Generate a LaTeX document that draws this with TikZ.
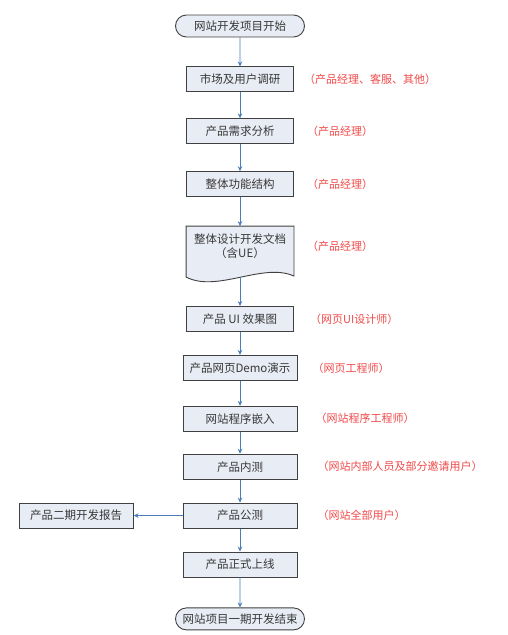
\documentclass[tikz,border=0pt]{standalone}
\usepackage{fontspec}
\setmainfont{Noto Sans CJK SC}
\usetikzlibrary{arrows.meta, positioning, shapes.misc, backgrounds}
\definecolor{boxfill}{HTML}{E8ECF4}
\definecolor{boxline}{HTML}{404040}
\definecolor{flowblue}{HTML}{4A7EBB}
\definecolor{rolered}{HTML}{F04848}

\begin{document}
\begin{tikzpicture}[
        x=1pt, y=1pt,
        node distance=25pt and 12pt,
        stage/.style={draw=boxline, line width=0.9pt, fill=boxfill, align=center, minimum width=107pt, minimum height=25pt, inner sep=2pt, text=black!78, font=\fontsize{11.5}{14}\selectfont},
        widestage/.style={stage, minimum width=114pt},
        term/.style={stage, rounded rectangle, minimum width=133pt, minimum height=22pt},
        role/.style={anchor=west, inner sep=0pt, text=rolered, font=\fontsize{11}{13}\selectfont},
        arr/.style={flowblue, line width=0.8pt, -{Stealth[length=5pt, width=4.5pt]}}
    ]
        \useasboundingbox (0,0) rectangle (508,-635);

        \node[term] (start) at (240,-26) {网站开发项目开始};
        \node[stage, below=29pt of start] (market) {市场及用户调研};
        \node[stage, below=26pt of market] (req) {产品需求分析};
        \node[stage, below=27pt of req] (func) {整体功能结构};
        \node[stage, draw=none, fill=none, minimum height=40pt, below=29pt of func] (doc) {整体设计开发文档\\（含UE）};
        \node[stage, below=39pt of doc] (ui) {产品 UI 效果图};
        \node[widestage, below=23pt of ui] (demo) {产品网页Demo演示};
        \node[widestage, below=25pt of demo] (embed) {网站程序嵌入};
        \node[widestage, below=22pt of embed] (alpha) {产品内测};
        \node[widestage, below=23pt of alpha] (beta) {产品公测};
        \node[widestage, below=23pt of beta] (launch) {产品正式上线};
        \node[term, below=30pt of launch] (finish) {网站项目一期开发结束};
        \node[widestage, left=49pt of beta] (report) {产品二期开发报告};

        % document shape with wavy bottom
        \begin{scope}[on background layer]
            \draw[boxline, line width=0.9pt, fill=boxfill] (doc.north west) -- (doc.north east) -- ([yshift=-9pt]doc.south east)
                .. controls +(-31,14) and +(31,-16) .. ([yshift=-10pt]doc.south west) -- cycle;
        \end{scope}
        \coordinate (docwave) at ([yshift=-10pt]doc.south);

        \node[role, right=10pt of market] (rmarket) {（产品经理、客服、其他）};
        \node[role, right=13pt of req] (rreq) {（产品经理）};
        \node[role, right=13pt of func] (rfunc) {（产品经理）};
        \node[role, right=13pt of doc] (rdoc) {（产品经理）};
        \node[role, right=16pt of ui] (rui) {（网页UI设计师）};
        \node[role, right=15pt of demo] (rdemo) {（网页工程师）};
        \node[role, right=18pt of embed] (rembed) {（网站程序工程师）};
        \node[role, right=20pt of alpha] (ralpha) {（网站内部人员及部分邀请用户）};
        \node[role, right=20pt of beta] (rbeta) {（网站全部用户）};

        \draw[arr] (start) -- (market);
        \draw[arr] (market) -- (req);
        \draw[arr] (req) -- (func);
        \draw[arr] (func) -- (doc);
        \draw[arr] (docwave) -- (ui);
        \draw[arr] (ui) -- (demo);
        \draw[arr] (demo) -- (embed);
        \draw[arr] (embed) -- (alpha);
        \draw[arr] (alpha) -- (beta);
        \draw[arr] (beta) -- (launch);
        \draw[arr] (launch) -- (finish);
        \draw[arr] (beta) -- (report);
    \end{tikzpicture}
\end{document}
